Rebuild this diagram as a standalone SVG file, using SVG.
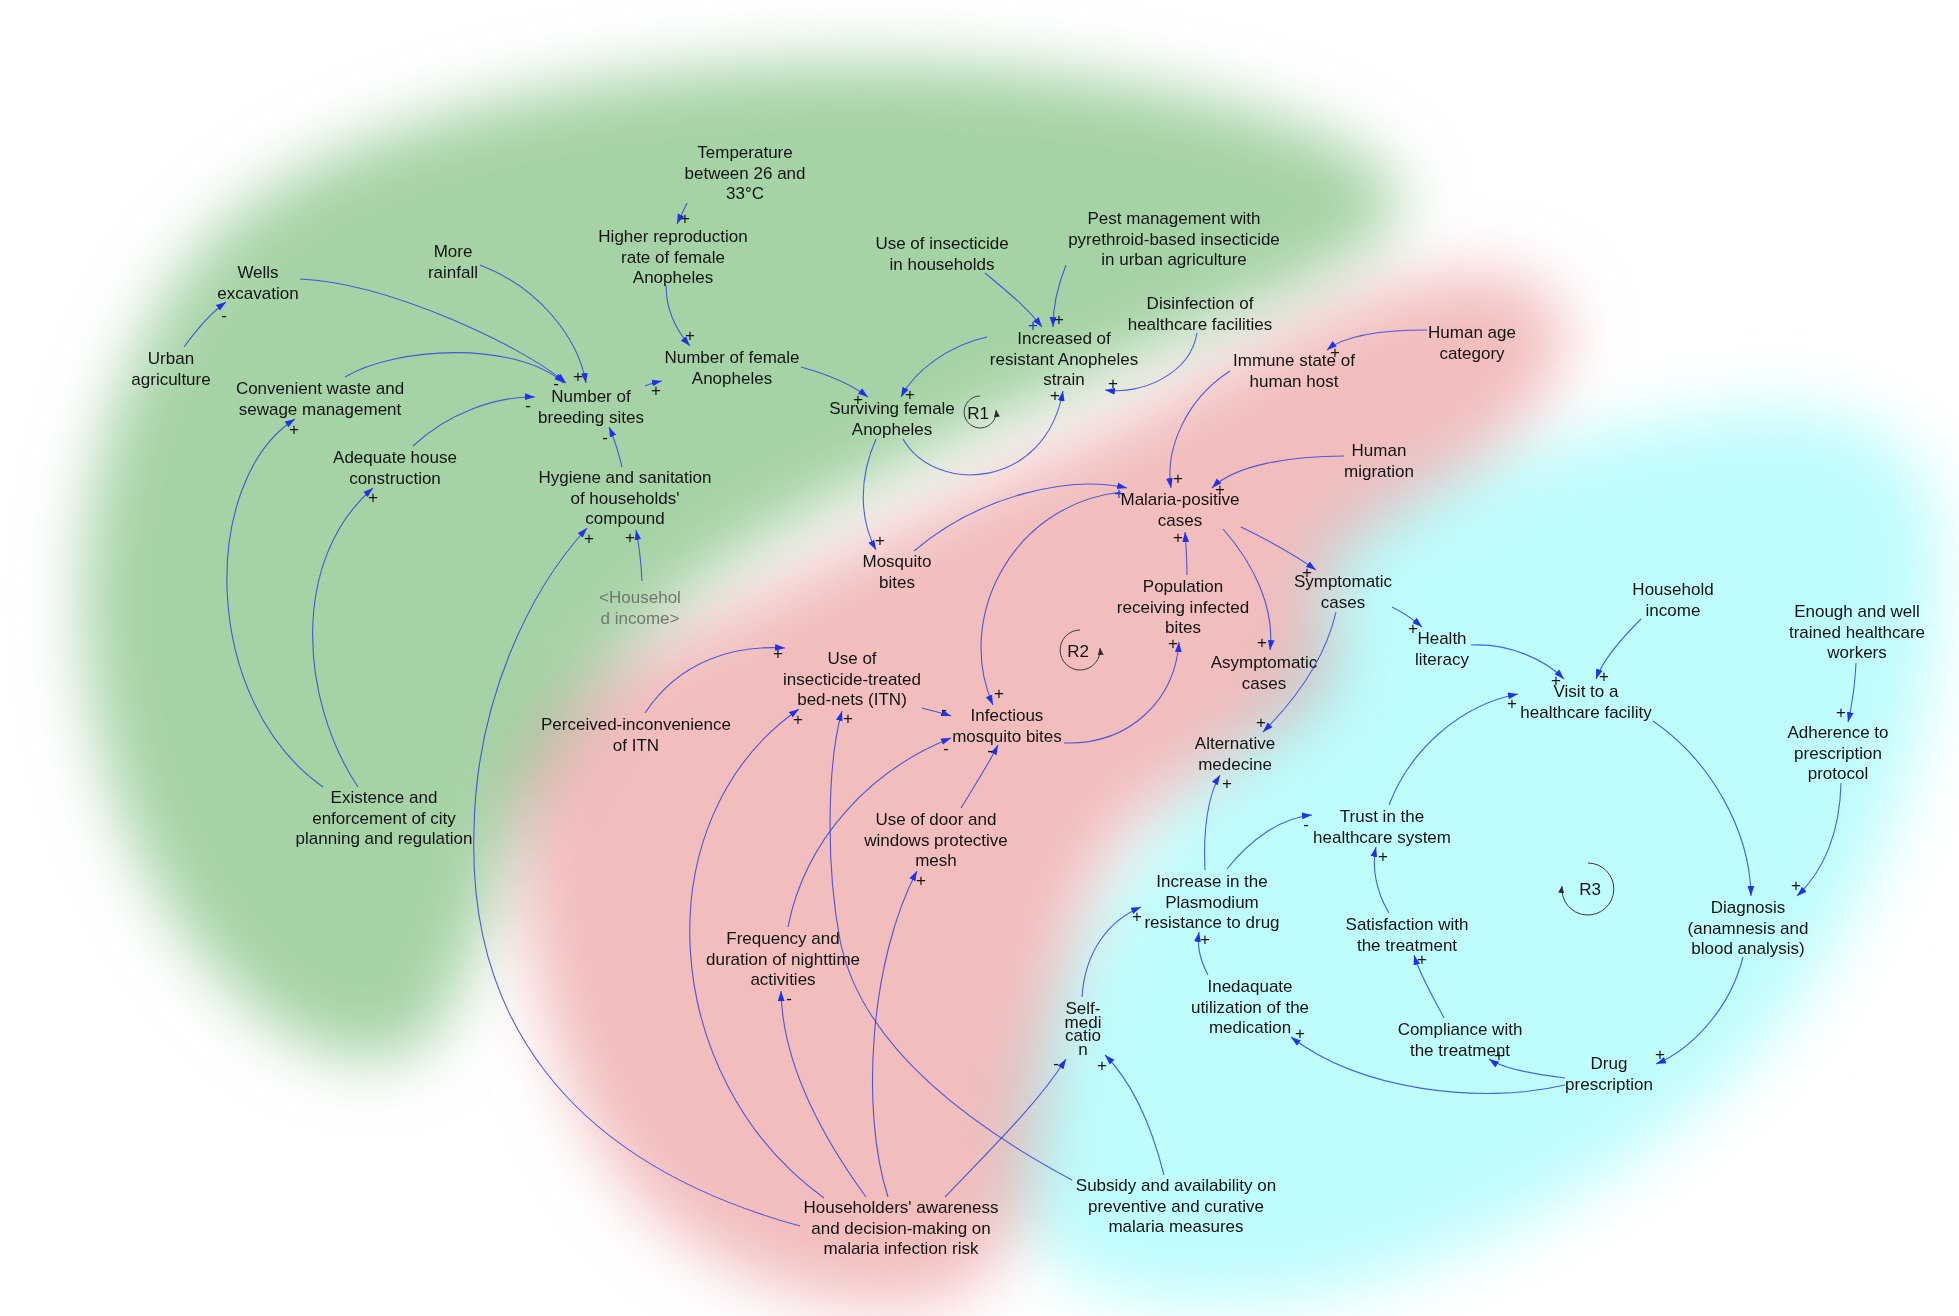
<svg xmlns="http://www.w3.org/2000/svg" width="1959" height="1316" viewBox="0 0 1959 1316">
<style>
text{font-family:"Liberation Sans",Arial,sans-serif;font-size:17px;fill:#141414;text-anchor:middle;dominant-baseline:central}
.g{fill:#6f786f}
.p{font-size:17px}
.pb{fill:#2235d8}
.c{fill:none;stroke:#2a3ee0;stroke-opacity:0.82;stroke-width:1.1;marker-end:url(#ah)}
.loop{fill:none;stroke:#3a3a3a;stroke-width:1;marker-end:url(#lh)}
.bg{mix-blend-mode:multiply;filter:url(#blur)}
</style>
<defs>
<filter id="blur" x="-20%" y="-20%" width="140%" height="140%"><feGaussianBlur stdDeviation="32"/></filter>
<marker id="ah" markerWidth="11" markerHeight="8" refX="10" refY="4" orient="auto" markerUnits="userSpaceOnUse"><path d="M0,0.6 L10,4 L0,7.4 Z" fill="#1f33e6"/></marker>
<marker id="lh" markerWidth="8" markerHeight="7" refX="7" refY="3.5" orient="auto" markerUnits="userSpaceOnUse"><path d="M0,0.5 L7,3.5 L0,6.5 Z" fill="#2a2a2a"/></marker>
</defs>
<rect width="1959" height="1316" fill="#ffffff"/>
<g id="backgrounds">
<path class="bg" fill="#a6d3a6" d="M200,250 C310,120 600,60 875,62 C1100,65 1350,110 1400,190 C1420,230 1320,280 1200,330 C1060,392 900,462 780,530 C650,605 545,720 505,850 C480,940 460,1000 430,1040 C380,1080 290,1060 215,970 C120,870 75,700 85,560 C95,430 140,320 200,250 Z"/>
<path class="bg" fill="#f2bdbd" d="M1540,290 C1590,320 1560,390 1500,440 C1440,490 1370,520 1335,560 C1305,600 1360,660 1310,705 C1260,745 1170,785 1120,835 C1070,895 1045,1050 1035,1150 C1025,1250 980,1310 880,1305 C780,1300 700,1260 640,1200 C560,1110 515,950 520,800 C525,730 575,690 655,648 C775,588 905,518 1055,452 C1185,396 1290,322 1400,285 C1470,265 1515,272 1540,290 Z"/>
<path class="bg" fill="#bffcfc" d="M1330,545 C1420,470 1600,420 1750,410 C1870,400 1940,450 1940,560 C1940,700 1900,850 1800,1000 C1700,1130 1550,1230 1350,1290 C1200,1320 1080,1300 1040,1250 C1000,1190 1020,1080 1060,990 C1100,900 1170,810 1230,750 C1285,700 1320,670 1315,610 C1312,580 1318,560 1330,545 Z"/>
</g>
<g id="connectors">
<path class="c" d="M184,347 C200,325 212,312 226,302"/>
<path class="c" d="M300,279 C390,283 524,347 566,383"/>
<path class="c" d="M480,265 C538,287 578,337 586,383"/>
<path class="c" d="M345,377 C395,347 515,340 564,383"/>
<path class="c" d="M413,446 C448,413 497,396 535,397"/>
<path class="c" d="M622,467 C618,450 614,438 609,427"/>
<path class="c" d="M645,386 C652,383 657,382 662,381"/>
<path class="c" d="M687,203 C684,210 680,217 677,224"/>
<path class="c" d="M666,285 C666,310 676,330 690,346"/>
<path class="c" d="M801,367 C830,375 852,385 868,397"/>
<path class="c" d="M985,273 C1005,290 1025,305 1042,327"/>
<path class="c" d="M1066,265 C1058,285 1053,305 1053,327"/>
<path class="c" d="M987,337 C950,345 915,370 901,397"/>
<path class="c" d="M903,439 C935,495 1045,490 1063,391"/>
<path class="c" d="M1197,333 C1190,375 1140,395 1105,390"/>
<path class="c" d="M323,787 C200,700 200,480 295,419"/>
<path class="c" d="M358,787 C300,700 290,560 373,488"/>
<path class="c" d="M800,1226 C560,1160 468,1010 474,830 C476,700 530,590 587,528"/>
<path class="c" d="M642,581 C641,560 639,545 636,530"/>
<path class="c" d="M876,439 C858,480 860,520 876,550"/>
<path class="c" d="M914,551 C980,495 1070,475 1127,488"/>
<path class="c" d="M1427,330 C1380,330 1345,335 1327,350"/>
<path class="c" d="M1230,371 C1185,400 1165,450 1171,488"/>
<path class="c" d="M1344,456 C1290,456 1235,465 1212,488"/>
<path class="c" d="M1121,492 C1010,505 955,620 993,705"/>
<path class="c" d="M1064,743 C1130,745 1175,700 1179,642"/>
<path class="c" d="M1187,575 C1187,560 1186,545 1185,532"/>
<path class="c" d="M1223,529 C1255,565 1275,610 1270,650"/>
<path class="c" d="M1241,527 C1268,540 1295,555 1316,570"/>
<path class="c" d="M645,713 C680,660 735,645 785,648"/>
<path class="c" d="M922,708 C932,711 942,713 951,716"/>
<path class="c" d="M788,927 C805,840 870,770 951,738"/>
<path class="c" d="M961,808 C975,785 988,765 998,745"/>
<path class="c" d="M824,1198 C660,1080 640,820 799,709"/>
<path class="c" d="M1072,1180 C960,1120 860,1040 840,940 C825,860 828,760 842,711"/>
<path class="c" d="M866,1197 C810,1120 782,1050 781,991"/>
<path class="c" d="M888,1197 C860,1110 870,960 917,871"/>
<path class="c" d="M945,1197 C1000,1140 1040,1100 1066,1059"/>
<path class="c" d="M1164,1175 C1150,1120 1130,1080 1105,1055"/>
<path class="c" d="M1336,612 C1325,660 1295,700 1263,732"/>
<path class="c" d="M1392,607 C1402,612 1413,619 1422,627"/>
<path class="c" d="M1471,645 C1510,643 1545,660 1564,679"/>
<path class="c" d="M1641,619 C1620,640 1602,662 1596,679"/>
<path class="c" d="M1389,805 C1410,750 1460,705 1518,694"/>
<path class="c" d="M1653,721 C1710,760 1750,830 1751,896"/>
<path class="c" d="M1856,663 C1855,685 1852,705 1848,722"/>
<path class="c" d="M1841,783 C1840,830 1825,870 1797,896"/>
<path class="c" d="M1743,957 C1730,1010 1690,1050 1656,1064"/>
<path class="c" d="M1565,1078 C1540,1075 1505,1070 1489,1059"/>
<path class="c" d="M1565,1085 C1480,1105 1360,1090 1291,1037"/>
<path class="c" d="M1444,1018 C1432,995 1420,975 1414,955"/>
<path class="c" d="M1389,913 C1375,890 1372,865 1376,847"/>
<path class="c" d="M1227,869 C1250,840 1280,818 1312,815"/>
<path class="c" d="M1205,870 C1203,830 1208,795 1220,775"/>
<path class="c" d="M1208,975 C1200,960 1197,945 1199,932"/>
<path class="c" d="M1082,997 C1085,950 1110,920 1141,907"/>
</g>
<g id="polarities">
<text class="p" x="224" y="315">-</text>
<text class="p" x="578" y="376">+</text>
<text class="p" x="556" y="383">-</text>
<text class="p" x="528" y="405">-</text>
<text class="p" x="605" y="437">-</text>
<text class="p" x="656" y="390">+</text>
<text class="p" x="685" y="218">+</text>
<text class="p" x="690" y="335">+</text>
<text class="p" x="858" y="399">+</text>
<text class="p pb" x="1033" y="325">+</text>
<text class="p" x="1059" y="319">+</text>
<text class="p" x="910" y="394">+</text>
<text class="p" x="1055" y="395">+</text>
<text class="p" x="1113" y="383">+</text>
<text class="p" x="294" y="429">+</text>
<text class="p" x="373" y="497">+</text>
<text class="p" x="589" y="538">+</text>
<text class="p" x="630" y="537">+</text>
<text class="p" x="880" y="540">+</text>
<text class="p" x="1335" y="352">+</text>
<text class="p" x="1178" y="478">+</text>
<text class="p" x="1220" y="489">+</text>
<text class="p pb" x="1119" y="493">+</text>
<text class="p" x="999" y="693">+</text>
<text class="p" x="1173" y="643">+</text>
<text class="p" x="1178" y="537">+</text>
<text class="p" x="1262" y="642">+</text>
<text class="p" x="1307" y="572">+</text>
<text class="p" x="778" y="653">+</text>
<text class="p" x="944" y="709">-</text>
<text class="p" x="946" y="748">-</text>
<text class="p" x="990" y="750">-</text>
<text class="p" x="798" y="719">+</text>
<text class="p" x="848" y="718">+</text>
<text class="p" x="789" y="998">-</text>
<text class="p" x="921" y="880">+</text>
<text class="p" x="1056" y="1063">-</text>
<text class="p" x="1102" y="1065">+</text>
<text class="p" x="1261" y="722">+</text>
<text class="p" x="1413" y="628">+</text>
<text class="p" x="1556" y="680">+</text>
<text class="p" x="1604" y="676">+</text>
<text class="p" x="1512" y="703">+</text>
<text class="p" x="1841" y="712">+</text>
<text class="p" x="1796" y="885">+</text>
<text class="p" x="1660" y="1054">+</text>
<text class="p" x="1499" y="1055">+</text>
<text class="p" x="1300" y="1033">+</text>
<text class="p" x="1422" y="959">+</text>
<text class="p" x="1383" y="856">+</text>
<text class="p" x="1306" y="824">-</text>
<text class="p" x="1227" y="783">+</text>
<text class="p" x="1205" y="939">+</text>
<text class="p" x="1137" y="916">+</text>
</g>
<g id="loops">
<g id="loop-R1"><path class="loop" d="M980,396 A16,16 0 1,0 996,410"/><text x="978" y="413">R1</text></g>
<g id="loop-R2"><path class="loop" d="M1080,630 A20,20 0 1,0 1100,648"/><text x="1078" y="651">R2</text></g>
<g id="loop-R3"><path class="loop" d="M1588,863 A26,26 0 1,1 1562,886"/><text x="1590" y="889">R3</text></g>
</g>
<g id="nodes">
<g id="n-temperature"><text><tspan x="745" y="152">Temperature</tspan><tspan x="745" y="172.5">between 26 and</tspan><tspan x="745" y="193">33°C</tspan></text></g>
<g id="n-higher-reproduction"><text><tspan x="673" y="236">Higher reproduction</tspan><tspan x="673" y="256.5">rate of female</tspan><tspan x="673" y="277">Anopheles</tspan></text></g>
<g id="n-wells"><text><tspan x="258" y="272">Wells</tspan><tspan x="258" y="292.5">excavation</tspan></text></g>
<g id="n-rainfall"><text><tspan x="453" y="251">More</tspan><tspan x="453" y="271.5">rainfall</tspan></text></g>
<g id="n-urban-agriculture"><text><tspan x="171" y="358">Urban</tspan><tspan x="171" y="378.5">agriculture</tspan></text></g>
<g id="n-convenient-waste"><text><tspan x="320" y="388">Convenient waste and</tspan><tspan x="320" y="408.5">sewage management</tspan></text></g>
<g id="n-breeding-sites"><text><tspan x="591" y="396">Number of</tspan><tspan x="591" y="416.5">breeding sites</tspan></text></g>
<g id="n-female-anopheles"><text><tspan x="732" y="357">Number of female</tspan><tspan x="732" y="377.5">Anopheles</tspan></text></g>
<g id="n-adequate-house"><text><tspan x="395" y="457">Adequate house</tspan><tspan x="395" y="477.5">construction</tspan></text></g>
<g id="n-hygiene"><text><tspan x="625" y="477">Hygiene and sanitation</tspan><tspan x="625" y="497.5">of households'</tspan><tspan x="625" y="518">compound</tspan></text></g>
<g id="n-household-income-shadow"><text class="g"><tspan x="640" y="597">&lt;Househol</tspan><tspan x="640" y="617.5">d income&gt;</tspan></text></g>
<g id="n-insecticide-households"><text><tspan x="942" y="243">Use of insecticide</tspan><tspan x="942" y="263.5">in households</tspan></text></g>
<g id="n-pest-management"><text><tspan x="1174" y="218">Pest management with</tspan><tspan x="1174" y="238.5">pyrethroid-based insecticide</tspan><tspan x="1174" y="259">in urban agriculture</tspan></text></g>
<g id="n-disinfection"><text><tspan x="1200" y="303">Disinfection of</tspan><tspan x="1200" y="323.5">healthcare facilities</tspan></text></g>
<g id="n-resistant-strain"><text><tspan x="1064" y="338">Increased of</tspan><tspan x="1064" y="358.5">resistant Anopheles</tspan><tspan x="1064" y="379">strain</tspan></text></g>
<g id="n-surviving"><text><tspan x="892" y="408">Surviving female</tspan><tspan x="892" y="428.5">Anopheles</tspan></text></g>
<g id="n-city-planning"><text><tspan x="384" y="797">Existence and</tspan><tspan x="384" y="817.5">enforcement of city</tspan><tspan x="384" y="838">planning and regulation</tspan></text></g>
<g id="n-human-age"><text><tspan x="1472" y="332">Human age</tspan><tspan x="1472" y="352.5">category</tspan></text></g>
<g id="n-immune-state"><text><tspan x="1294" y="360">Immune state of</tspan><tspan x="1294" y="380.5">human host</tspan></text></g>
<g id="n-migration"><text><tspan x="1379" y="450">Human</tspan><tspan x="1379" y="470.5">migration</tspan></text></g>
<g id="n-malaria-positive"><text><tspan x="1180" y="499">Malaria-positive</tspan><tspan x="1180" y="519.5">cases</tspan></text></g>
<g id="n-mosquito-bites"><text><tspan x="897" y="561">Mosquito</tspan><tspan x="897" y="581.5">bites</tspan></text></g>
<g id="n-population-infected"><text><tspan x="1183" y="586">Population</tspan><tspan x="1183" y="606.5">receiving infected</tspan><tspan x="1183" y="627">bites</tspan></text></g>
<g id="n-asymptomatic"><text><tspan x="1264" y="662">Asymptomatic</tspan><tspan x="1264" y="682.5">cases</tspan></text></g>
<g id="n-itn"><text><tspan x="852" y="658">Use of</tspan><tspan x="852" y="678.5">insecticide-treated</tspan><tspan x="852" y="699">bed-nets (ITN)</tspan></text></g>
<g id="n-perceived-inconvenience"><text><tspan x="636" y="724">Perceived-inconvenience</tspan><tspan x="636" y="744.5">of ITN</tspan></text></g>
<g id="n-infectious-bites"><text><tspan x="1007" y="715">Infectious</tspan><tspan x="1007" y="735.5">mosquito bites</tspan></text></g>
<g id="n-door-mesh"><text><tspan x="936" y="819">Use of door and</tspan><tspan x="936" y="839.5">windows protective</tspan><tspan x="936" y="860">mesh</tspan></text></g>
<g id="n-nighttime"><text><tspan x="783" y="938">Frequency and</tspan><tspan x="783" y="958.5">duration of nighttime</tspan><tspan x="783" y="979">activities</tspan></text></g>
<g id="n-householders"><text><tspan x="901" y="1207">Householders' awareness</tspan><tspan x="901" y="1227.5">and decision-making on</tspan><tspan x="901" y="1248">malaria infection risk</tspan></text></g>
<g id="n-symptomatic"><text><tspan x="1343" y="581">Symptomatic</tspan><tspan x="1343" y="601.5">cases</tspan></text></g>
<g id="n-health-literacy"><text><tspan x="1442" y="638">Health</tspan><tspan x="1442" y="658.5">literacy</tspan></text></g>
<g id="n-household-income"><text><tspan x="1673" y="589">Household</tspan><tspan x="1673" y="609.5">income</tspan></text></g>
<g id="n-healthcare-workers"><text><tspan x="1857" y="611">Enough and well</tspan><tspan x="1857" y="631.5">trained healthcare</tspan><tspan x="1857" y="652">workers</tspan></text></g>
<g id="n-visit"><text><tspan x="1586" y="691">Visit to a</tspan><tspan x="1586" y="711.5">healthcare facility</tspan></text></g>
<g id="n-adherence"><text><tspan x="1838" y="732">Adherence to</tspan><tspan x="1838" y="752.5">prescription</tspan><tspan x="1838" y="773">protocol</tspan></text></g>
<g id="n-alternative-medecine"><text><tspan x="1235" y="743">Alternative</tspan><tspan x="1235" y="763.5">medecine</tspan></text></g>
<g id="n-trust"><text><tspan x="1382" y="816">Trust in the</tspan><tspan x="1382" y="836.5">healthcare system</tspan></text></g>
<g id="n-plasmodium-resistance"><text><tspan x="1212" y="881">Increase in the</tspan><tspan x="1212" y="901.5">Plasmodium</tspan><tspan x="1212" y="922">resistance to drug</tspan></text></g>
<g id="n-diagnosis"><text><tspan x="1748" y="907">Diagnosis</tspan><tspan x="1748" y="927.5">(anamnesis and</tspan><tspan x="1748" y="948">blood analysis)</tspan></text></g>
<g id="n-satisfaction"><text><tspan x="1407" y="924">Satisfaction with</tspan><tspan x="1407" y="944.5">the treatment</tspan></text></g>
<g id="n-inadequate-utilization"><text><tspan x="1250" y="986">Inedaquate</tspan><tspan x="1250" y="1006.5">utilization of the</tspan><tspan x="1250" y="1027">medication</tspan></text></g>
<g id="n-self-medication"><text><tspan x="1083" y="1008">Self-</tspan><tspan x="1083" y="1021.5">medi</tspan><tspan x="1083" y="1035">catio</tspan><tspan x="1083" y="1048.5">n</tspan></text></g>
<g id="n-compliance"><text><tspan x="1460" y="1029">Compliance with</tspan><tspan x="1460" y="1049.5">the treatment</tspan></text></g>
<g id="n-drug-prescription"><text><tspan x="1609" y="1063">Drug</tspan><tspan x="1609" y="1083.5">prescription</tspan></text></g>
<g id="n-subsidy"><text><tspan x="1176" y="1185">Subsidy and availability on</tspan><tspan x="1176" y="1205.5">preventive and curative</tspan><tspan x="1176" y="1226">malaria measures</tspan></text></g>
</g>
</svg>
